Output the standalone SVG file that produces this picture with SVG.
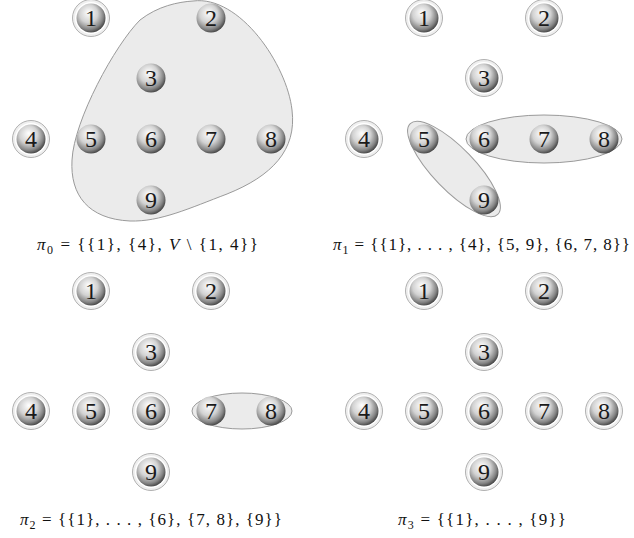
<svg xmlns="http://www.w3.org/2000/svg" width="634" height="538" viewBox="0 0 634 538">
<style>
.blob{fill:#ebebeb;stroke:#9a9a9a;stroke-width:1}
.ring{fill:#efefef;stroke:#b0b0b0;stroke-width:1}
.gap{fill:#ffffff}
.ball{fill:url(#sph)}
.num{font-family:"Liberation Serif","DejaVu Serif",serif;font-size:24px;fill:#1a1a1a;text-anchor:middle}
.lbl{font-family:"Liberation Serif","DejaVu Serif",serif;font-size:17px;fill:#111}
</style>
<defs>
<radialGradient id="sph" cx="0.42" cy="0.4" r="0.62" fx="0.42" fy="0.3">
<stop offset="0" stop-color="#ffffff"/>
<stop offset="0.5" stop-color="#d2d2d2"/>
<stop offset="0.82" stop-color="#858585"/>
<stop offset="1" stop-color="#444444"/>
</radialGradient>
<g id="rg"><circle class="ring" r="18.5"/><circle class="gap" r="16"/></g>
<circle id="b" class="ball" r="14.5"/>
</defs>

<g id="connectors">
<path class="blob" d="M193,1 C240,-5 287,65 292,110 C297,150 272,176 227,194 C190,208 160,222 130,221 C88,219 70,195 72,160 C74,120 115,45 140,20 C158,6 178,2 193,1 Z"/>
<ellipse class="blob" cx="454" cy="169" rx="63" ry="21" transform="rotate(46 454 169)"/>
<ellipse class="blob" cx="544" cy="139" rx="78" ry="24"/>
<ellipse class="blob" cx="242" cy="411" rx="50" ry="18"/>
</g>

<!-- panel 0 -->
<g id="p0n1"><use href="#rg" x="91" y="18"/><use href="#b" x="91" y="18"/><text class="num" x="91" y="26">1</text></g>
<g id="p0n2"><use href="#b" x="211" y="18"/><text class="num" x="211" y="26">2</text></g>
<g id="p0n3"><use href="#b" x="151" y="78"/><text class="num" x="151" y="86">3</text></g>
<g id="p0n4"><use href="#rg" x="31" y="139"/><use href="#b" x="31" y="139"/><text class="num" x="31" y="147">4</text></g>
<g id="p0n5"><use href="#b" x="91" y="139"/><text class="num" x="91" y="147">5</text></g>
<g id="p0n6"><use href="#b" x="151" y="139"/><text class="num" x="151" y="147">6</text></g>
<g id="p0n7"><use href="#b" x="211" y="139"/><text class="num" x="211" y="147">7</text></g>
<g id="p0n8"><use href="#b" x="271" y="139"/><text class="num" x="271" y="147">8</text></g>
<g id="p0n9"><use href="#b" x="151" y="200"/><text class="num" x="151" y="208">9</text></g>
<text class="lbl" x="37" y="250" textLength="221" lengthAdjust="spacing"><tspan font-style="italic">π</tspan><tspan font-size="12" dy="4">0</tspan><tspan dy="-4"> = {{1}, {4}, </tspan><tspan font-style="italic">V</tspan> \ {1, 4}}</text>

<!-- panel 1 -->
<g id="p1n1"><use href="#rg" x="424" y="18"/><use href="#b" x="424" y="18"/><text class="num" x="424" y="26">1</text></g>
<g id="p1n2"><use href="#rg" x="544" y="18"/><use href="#b" x="544" y="18"/><text class="num" x="544" y="26">2</text></g>
<g id="p1n3"><use href="#rg" x="484" y="78"/><use href="#b" x="484" y="78"/><text class="num" x="484" y="86">3</text></g>
<g id="p1n4"><use href="#rg" x="364" y="139"/><use href="#b" x="364" y="139"/><text class="num" x="364" y="147">4</text></g>
<g id="p1n5"><use href="#b" x="424" y="139"/><text class="num" x="424" y="147">5</text></g>
<g id="p1n6"><use href="#b" x="484" y="139"/><text class="num" x="484" y="147">6</text></g>
<g id="p1n7"><use href="#b" x="544" y="139"/><text class="num" x="544" y="147">7</text></g>
<g id="p1n8"><use href="#b" x="604" y="139"/><text class="num" x="604" y="147">8</text></g>
<g id="p1n9"><use href="#b" x="484" y="200"/><text class="num" x="484" y="208">9</text></g>
<text class="lbl" x="333" y="250" textLength="297" lengthAdjust="spacing"><tspan font-style="italic">π</tspan><tspan font-size="12" dy="4">1</tspan><tspan dy="-4"> = {{1}, . . . , {4}, {5, 9}, {6, 7, 8}}</tspan></text>

<!-- panel 2 -->
<g id="p2n1"><use href="#rg" x="91" y="291"/><use href="#b" x="91" y="291"/><text class="num" x="91" y="299">1</text></g>
<g id="p2n2"><use href="#rg" x="211" y="291"/><use href="#b" x="211" y="291"/><text class="num" x="211" y="299">2</text></g>
<g id="p2n3"><use href="#rg" x="151" y="352"/><use href="#b" x="151" y="352"/><text class="num" x="151" y="360">3</text></g>
<g id="p2n4"><use href="#rg" x="31" y="411"/><use href="#b" x="31" y="411"/><text class="num" x="31" y="419">4</text></g>
<g id="p2n5"><use href="#rg" x="91" y="411"/><use href="#b" x="91" y="411"/><text class="num" x="91" y="419">5</text></g>
<g id="p2n6"><use href="#rg" x="151" y="411"/><use href="#b" x="151" y="411"/><text class="num" x="151" y="419">6</text></g>
<g id="p2n7"><use href="#b" x="211" y="411"/><text class="num" x="211" y="419">7</text></g>
<g id="p2n8"><use href="#b" x="271" y="411"/><text class="num" x="271" y="419">8</text></g>
<g id="p2n9"><use href="#rg" x="151" y="472"/><use href="#b" x="151" y="472"/><text class="num" x="151" y="480">9</text></g>
<text class="lbl" x="20" y="525" textLength="262" lengthAdjust="spacing"><tspan font-style="italic">π</tspan><tspan font-size="12" dy="4">2</tspan><tspan dy="-4"> = {{1}, . . . , {6}, {7, 8}, {9}}</tspan></text>

<!-- panel 3 -->
<g id="p3n1"><use href="#rg" x="424" y="291"/><use href="#b" x="424" y="291"/><text class="num" x="424" y="299">1</text></g>
<g id="p3n2"><use href="#rg" x="544" y="291"/><use href="#b" x="544" y="291"/><text class="num" x="544" y="299">2</text></g>
<g id="p3n3"><use href="#rg" x="484" y="352"/><use href="#b" x="484" y="352"/><text class="num" x="484" y="360">3</text></g>
<g id="p3n4"><use href="#rg" x="364" y="411"/><use href="#b" x="364" y="411"/><text class="num" x="364" y="419">4</text></g>
<g id="p3n5"><use href="#rg" x="424" y="411"/><use href="#b" x="424" y="411"/><text class="num" x="424" y="419">5</text></g>
<g id="p3n6"><use href="#rg" x="484" y="411"/><use href="#b" x="484" y="411"/><text class="num" x="484" y="419">6</text></g>
<g id="p3n7"><use href="#rg" x="544" y="411"/><use href="#b" x="544" y="411"/><text class="num" x="544" y="419">7</text></g>
<g id="p3n8"><use href="#rg" x="604" y="411"/><use href="#b" x="604" y="411"/><text class="num" x="604" y="419">8</text></g>
<g id="p3n9"><use href="#rg" x="484" y="472"/><use href="#b" x="484" y="472"/><text class="num" x="484" y="480">9</text></g>
<text class="lbl" x="398" y="525" textLength="168" lengthAdjust="spacing"><tspan font-style="italic">π</tspan><tspan font-size="12" dy="4">3</tspan><tspan dy="-4"> = {{1}, . . . , {9}}</tspan></text>
</svg>
